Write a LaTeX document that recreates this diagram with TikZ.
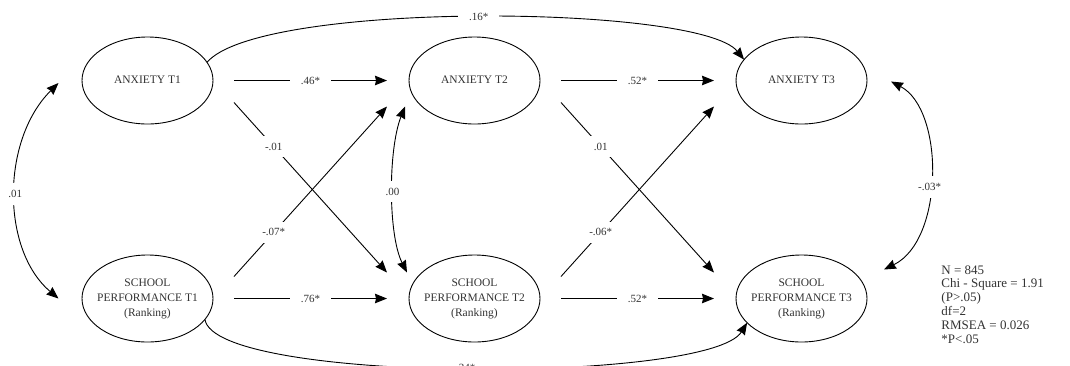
\documentclass[tikz,border=0pt]{standalone}
\usepackage{fontspec}
\setmainfont{Liberation Serif}
\usetikzlibrary{shapes.geometric,arrows.meta,positioning}
\newcommand{\lvtext}[1]{\makebox[40pt]{\begin{tabular}{@{}c@{}}#1\end{tabular}}}
\tikzset{latent/.style={ellipse,draw,line width=0.9pt,minimum width=131pt,minimum height=87pt,inner sep=0pt,outer sep=0pt,text=black!80,font=\fontsize{11.5}{15}\selectfont},
         edge label/.style={rectangle,draw=none,fill=white,inner xsep=11pt,inner ysep=7pt,text=black!80,font=\fontsize{11}{12}\selectfont},
         fit stats/.style={anchor=north west,align=left,inner sep=0pt,text=black!80,font=\fontsize{13}{13.8}\selectfont},
}

\begin{document}
\begin{tikzpicture}[x=1pt,y=-1pt,
>={Stealth[length=12pt,width=9.5pt,inset=1pt]},
every path/.style={line width=0.9pt}]
% \draw[help lines] (0,0) grid (1070,365);
\useasboundingbox (0,0) rectangle (1070,365);
\node[latent] (a1) at (147.5,80.5) {\lvtext{ANXIETY T1}};
\node[latent,right=196pt of a1] (a2) {\lvtext{ANXIETY T2}};
\node[latent,right=196pt of a2] (a3) {\lvtext{ANXIETY T3}};
\node[latent,below=131pt of a1] (s1) {\lvtext{SCHOOL\\PERFORMANCE T1\\(Ranking)}};
\node[latent,below=131pt of a2] (s2) {\lvtext{SCHOOL\\PERFORMANCE T2\\(Ranking)}};
\node[latent,below=131pt of a3] (s3) {\lvtext{SCHOOL\\PERFORMANCE T3\\(Ranking)}};
\node[fit stats] (stats) at (941,265) {N = 845\\Chi - Square = 1.91\\(P>.05)\\df=2\\RMSEA = 0.026\\*P<.05};
% stability paths
\draw[->] ([xshift=21pt]a1.east) -- node[edge label]{.46*} ([xshift=-22pt]a2.west);
\draw[->] ([xshift=21pt]a2.east) -- node[edge label]{.52*} ([xshift=-22pt]a3.west);
\draw[->] ([xshift=21pt]s1.east) -- node[edge label]{.76*} ([xshift=-22pt]s2.west);
\draw[->] ([xshift=21pt]s2.east) -- node[edge label]{.52*} ([xshift=-22pt]s3.west);
% cross-lagged paths
\draw[->] ([shift={(21,22)}]a1.east) -- node[edge label,pos=0.26]{-.01} ([shift={(-22,-26)}]s2.west);
\draw[->] ([shift={(21,-22)}]s1.east) -- node[edge label,pos=0.26]{-.07*} ([shift={(-22,26)}]a2.west);
\draw[->] ([shift={(21,22)}]a2.east) -- node[edge label,pos=0.26]{.01} ([shift={(-22,-26)}]s3.west);
\draw[->] ([shift={(21,-22)}]s2.east) -- node[edge label,pos=0.26]{-.06*} ([shift={(-22,26)}]a3.west);
% T1 -> T3
\draw[->] (a1.17) .. controls +(53,-62) and +(-44.6,-55) .. node[edge label]{.16*} (a3.160);
\draw[->] (s1.-20) .. controls +(10,64.6) and +(-37.6,60.8) .. node[edge label]{.34*} (s3.-156);
% correlations
\draw[<->] ([shift={(-23.5,2.5)}]a1.west) .. controls +(-57.5,57) and +(-57.5,-48.5) .. node[edge label]{.01} ([shift={(-23.5,0)}]s1.west);
\draw[<->] ([shift={(-4,26)}]a2.west) .. controls +(-17,43) and +(-19,-37.5) .. node[edge label]{.00} ([shift={(-2,-26)}]s2.west);
\draw[<->] ([shift={(24,1)}]a3.east) .. controls +(53.5,28) and +(60.5,-29.5) .. node[edge label,pos=0.55]{-.03*} ([shift={(17,-29)}]s3.east);
\end{tikzpicture}
\end{document}
